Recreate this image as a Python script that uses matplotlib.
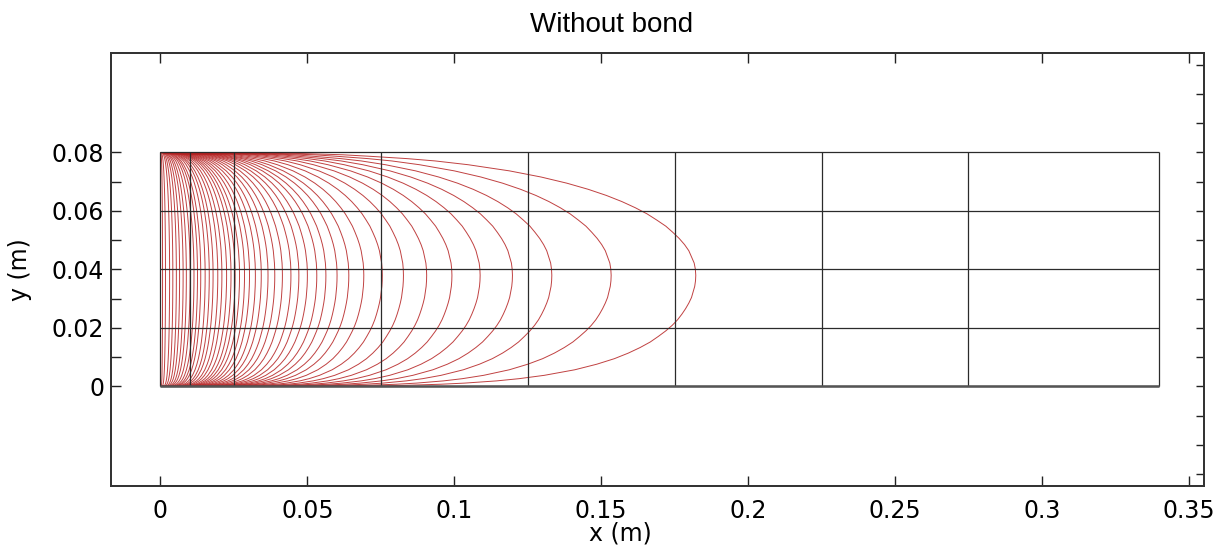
import matplotlib.pyplot as plt
from matplotlib.patches import Rectangle
import numpy as np

# x (m) where each red contour crosses mid height
apex_x = [0.0007, 0.0017, 0.0031, 0.0042, 0.0054, 0.0065, 0.0077, 0.0088,
          0.0101, 0.0114, 0.0126, 0.0137, 0.0152, 0.0166, 0.0179, 0.0195,
          0.0209, 0.0225, 0.0240, 0.0254, 0.0269, 0.0286, 0.0303, 0.0323,
          0.0343, 0.0366, 0.0389, 0.0415, 0.0444, 0.0471, 0.0500, 0.0532,
          0.0563, 0.0601, 0.0641, 0.0692, 0.0755, 0.0827, 0.0906, 0.0992,
          0.1088, 0.1198, 0.1332, 0.1534, 0.1822]

# contour shape: height y and x as a share of apex x
shape_y = [0.0, 0.000038, 0.00019, 0.00038, 0.00076, 0.00114, 0.0019,
           0.00266, 0.0038, 0.0057, 0.0076, 0.0095, 0.0114, 0.0133, 0.0152,
           0.0171, 0.019, 0.0209, 0.0228, 0.0247, 0.0266, 0.0285, 0.0304,
           0.0323, 0.0342, 0.0361, 0.038,
           0.0401, 0.0422, 0.0443, 0.0464, 0.0485, 0.0506, 0.0527, 0.0548,
           0.0569, 0.059, 0.0611, 0.0632, 0.0653, 0.0674, 0.0695, 0.0716,
           0.0737, 0.0758, 0.0771, 0.0779, 0.0787, 0.0792, 0.0796, 0.0798,
           0.07996, 0.08]
shape_frac = [0.0, 0.288, 0.398, 0.457, 0.524, 0.568, 0.628,
              0.670, 0.717, 0.774, 0.815, 0.848, 0.874, 0.896, 0.915,
              0.930, 0.944, 0.956, 0.966, 0.974, 0.981, 0.987, 0.992,
              0.995, 0.998, 0.9995, 1.0,
              0.9992, 0.997, 0.992, 0.987, 0.979, 0.969, 0.957, 0.944,
              0.927, 0.909, 0.887, 0.862, 0.833, 0.799, 0.759, 0.711,
              0.652, 0.575, 0.513, 0.460, 0.390, 0.341, 0.271, 0.215,
              0.126, 0.0]

# mesh / geometry lines
mesh_x = [0, 0.01, 0.025, 0.075, 0.125, 0.175, 0.225, 0.275, 0.34]
mesh_y = [0, 0.02, 0.04, 0.06, 0.08]

xticks = [0, 0.05, 0.1, 0.15, 0.2, 0.25, 0.3, 0.35]
xticklabels = ['0', '0.05', '0.1', '0.15', '0.2', '0.25', '0.3', '0.35']
yticks = [0, 0.02, 0.04, 0.06, 0.08]
yticklabels = ['0', '0.02', '0.04', '0.06', '0.08']
yticks_minor = [0.01, 0.03, 0.05, 0.07]
right_ticks = [-0.03, -0.02, -0.01, 0, 0.01, 0.02, 0.03, 0.04, 0.05, 0.06,
               0.07, 0.08, 0.09, 0.1, 0.11]

fig = plt.figure(figsize=(12.21, 5.5), dpi=100)
ax = fig.add_axes([0.0909, 0.1155, 0.8952, 0.7876])

box = Rectangle((0, 0), mesh_x[-1], mesh_y[-1], transform=ax.transData)
shape_frac = np.array(shape_frac)
for a in apex_x:
    ln, = ax.plot(a * shape_frac, shape_y, color='#b52020', lw=0.7,
                  alpha=0.85, zorder=2)
    ln.set_clip_path(box)

ax.vlines(mesh_x, mesh_y[0], mesh_y[-1], color='#2b2b2b', lw=0.9, zorder=3)
ax.hlines(mesh_y, mesh_x[0], mesh_x[-1], color='#2b2b2b', lw=0.9, zorder=3)
ax.hlines(0, 0, mesh_x[-1], color='#555555', lw=1.8, zorder=3)

ax.set_xlim(-0.01685, 0.3552)
ax.set_ylim(-0.0342, 0.1139)

ax.set_xticks(xticks)
ax.set_xticklabels(xticklabels)
ax.set_yticks(yticks)
ax.set_yticklabels(yticklabels)
ax.set_yticks(yticks_minor, minor=True)
ax.tick_params(axis='x', which='both', direction='in', top=True, length=7,
               width=1.0, pad=9, labelsize=17, color='#222222')
ax.tick_params(axis='y', which='both', direction='in', right=False, length=7,
               width=1.0, pad=5, labelsize=17, color='#222222')

ax2 = ax.twinx()
ax2.set_ylim(ax.get_ylim())
ax2.set_yticks(right_ticks)
ax2.tick_params(axis='y', direction='in', length=6, width=1.0,
                labelright=False, color='#222222')

for a in (ax, ax2):
    for s in a.spines.values():
        s.set_color('#333333')
        s.set_linewidth(1.3)

fig.text(0.5012, 1 - 25 / 550, 'Without bond', ha='center', va='center',
         fontsize=20, family='Liberation Sans')
fig.text(620 / 1221, 1 - 533 / 550, 'x (m)', ha='center', va='center',
         fontsize=17)
fig.text(20 / 1221, 1 - 270 / 550, 'y (m)', ha='center', va='center',
         fontsize=17, rotation=90)

fig.savefig('out.png', dpi=100)
